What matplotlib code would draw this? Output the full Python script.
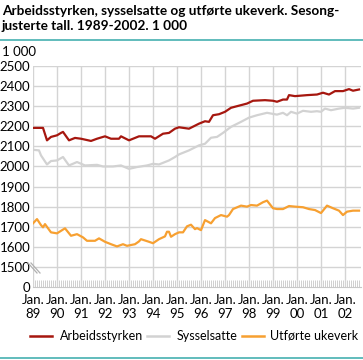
import matplotlib
matplotlib.use("Agg")
import matplotlib.pyplot as plt
from matplotlib.lines import Line2D

plt.rcParams['font.family'] = ['Lato', 'DejaVu Sans']

# values, 1 000 persons / weeks
arb_dates = ["1989-01", "1989-06", "1989-08", "1989-10", "1990-01", "1990-03", "1990-04",
             "1990-07", "1990-10", "1991-01", "1991-06", "1991-09", "1992-01", "1992-04",
             "1992-08", "1992-09", "1993-01", "1993-03", "1993-06", "1993-12", "1994-02",
             "1994-06", "1994-09", "1994-12", "1995-02", "1995-07", "1995-12", "1996-03",
             "1996-05", "1996-07", "1996-10", "1997-01", "1997-04", "1997-07", "1997-12",
             "1998-03", "1998-09", "1999-01", "1999-03", "1999-06", "1999-08", "1999-09",
             "1999-12", "2000-06", "2000-11", "2001-02", "2001-05", "2001-08", "2001-12",
             "2002-03", "2002-05", "2002-08"]
arb_vals = [2192, 2192, 2130, 2147, 2155, 2167, 2172,
            2130, 2142, 2138, 2127, 2138, 2150, 2138,
            2138, 2150, 2130, 2138, 2150, 2150, 2138,
            2163, 2167, 2188, 2195, 2188, 2213, 2225,
            2222, 2255, 2260, 2272, 2292, 2300, 2313,
            2327, 2330, 2327, 2322, 2333, 2333, 2355,
            2350, 2355, 2358, 2367, 2358, 2375, 2375,
            2385, 2377, 2383]

sys_dates = ["1989-01", "1989-04", "1989-05", "1989-08", "1989-10", "1990-01", "1990-04",
             "1990-07", "1990-11", "1991-03", "1991-09", "1991-12", "1992-05", "1992-09",
             "1993-01", "1993-05", "1993-10", "1994-01", "1994-04", "1994-09", "1994-12",
             "1995-02", "1995-07", "1995-12", "1996-03", "1996-06", "1996-09", "1996-12",
             "1997-04", "1997-09", "1998-01", "1998-05", "1998-10", "1999-03", "1999-06",
             "1999-08", "1999-10", "2000-01", "2000-04", "2000-08", "2000-11", "2001-01",
             "2001-03", "2001-06", "2001-10", "2002-01", "2002-05", "2002-08"]
sys_vals = [2083, 2080, 2055, 2010, 2027, 2030, 2047,
            2005, 2022, 2005, 2008, 2000, 2000, 2005,
            1988, 1997, 2005, 2013, 2010, 2030, 2047,
            2060, 2080, 2105, 2113, 2143, 2147, 2167,
            2197, 2222, 2243, 2255, 2267, 2258, 2267,
            2255, 2272, 2263, 2277, 2272, 2275, 2272,
            2288, 2280, 2288, 2292, 2288, 2292]

uke_dates = ["1989-01", "1989-03", "1989-05", "1989-06", "1989-07", "1989-10", "1990-01",
             "1990-05", "1990-08", "1990-11", "1991-02", "1991-04", "1991-08", "1991-10",
             "1992-01", "1992-04", "1992-07", "1992-10", "1992-12", "1993-04", "1993-06",
             "1993-07", "1993-11", "1994-01", "1994-04", "1994-07", "1994-08", "1994-09",
             "1994-10", "1994-12", "1995-02", "1995-04", "1995-06", "1995-08", "1995-10",
             "1995-11", "1996-01", "1996-03", "1996-06", "1996-08", "1996-11", "1997-02",
             "1997-03", "1997-05", "1997-09", "1997-12", "1998-02", "1998-05", "1998-08",
             "1998-10", "1999-01", "1999-03", "1999-06", "1999-09", "1999-12", "2000-04",
             "2000-07", "2000-10", "2001-01", "2001-04", "2001-07", "2001-10", "2001-12",
             "2002-02", "2002-05", "2002-08"]
uke_vals = [1717, 1738, 1708, 1697, 1713, 1672, 1667,
            1692, 1655, 1663, 1647, 1630, 1630, 1642,
            1625, 1613, 1602, 1613, 1605, 1613, 1627,
            1638, 1625, 1618, 1638, 1652, 1675, 1675,
            1650, 1663, 1672, 1672, 1702, 1710, 1688,
            1693, 1683, 1733, 1717, 1743, 1758, 1750,
            1758, 1788, 1805, 1800, 1808, 1805, 1822,
            1830, 1792, 1788, 1788, 1803, 1800, 1797,
            1788, 1783, 1768, 1805, 1792, 1780, 1758,
            1775, 1780, 1780]

series_names = ["Arbeidsstyrken", "Sysselsatte", "Utførte ukeverk"]
year_labels = ["89", "90", "91", "92", "93", "94", "95", "96", "97", "98", "99", "00", "01", "02"]
ytick_vals = [1400, 1500, 1600, 1700, 1800, 1900, 2000, 2100, 2200, 2300, 2400, 2500]
ytick_labels = ["0", "1500", "1600", "1700", "1800", "1900", "2000", "2100", "2200", "2300", "2400", "2500"]


def to_years(dates):
    return [int(d[:4]) + (int(d[5:]) - 1) / 12 for d in dates]


def px(x, y):
    # pixel position from top-left -> figure fraction
    return x / 363, 1 - y / 360


red = "#a6170f"
grey = "#d2d2d2"
orange = "#f7a031"
teal = "#46b0b0"
grid_c = "#d4d4d4"

fig = plt.figure(figsize=(3.63, 3.60), dpi=100)
ax = fig.add_axes([33 / 363, 73 / 360, 328 / 363, 221 / 360])

ax.plot(to_years(arb_dates), arb_vals, color=red, lw=1.6, zorder=4)
ax.plot(to_years(sys_dates), sys_vals, color=grey, lw=1.6, zorder=3)
ax.plot(to_years(uke_dates), uke_vals, color=orange, lw=1.6, zorder=4)

ax.set_xlim(1989, 1989 + 328 / 24)
ax.set_ylim(1400, 2500)

years = list(range(1989, 2003))
ax.set_xticks(years)
ax.set_xticklabels(["Jan.\n" + y for y in year_labels], fontsize=9.5, linespacing=1.2)
ax.set_xticks([y + m / 12 for y in range(1989, 2003) for m in range(12)
               if y + m / 12 < 1989 + 328 / 24], minor=True)
ax.tick_params(axis='x', which='major', length=0, pad=5)
ax.tick_params(axis='x', which='minor', direction='in', length=5, color="#c8c8c8", width=0.6)
ax.set_yticks(ytick_vals)
ax.set_yticklabels(ytick_labels, fontsize=9.5)
ax.tick_params(axis='y', length=0, pad=2)

for v in ytick_vals[1:]:
    ax.axhline(v, color=grid_c, lw=1, zorder=1)
for y in years:
    ax.axvline(y, color=grid_c, lw=1, zorder=1)

for s in ["top", "right", "left"]:
    ax.spines[s].set_visible(False)
ax.spines["bottom"].set_color("#c8c8c8")

# axis break marks
for dx in [0, 3]:
    x0, y0 = px(28 + dx, 263)
    x1, y1 = px(37 + dx, 273)
    fig.add_artist(Line2D([x0, x1], [y0, y1], color="#b0b0b0", lw=0.9))

fig.text(*px(2, 11), "Arbeidsstyrken, sysselsatte og utførte ukeverk. Sesong-",
         fontsize=9.8, fontweight='bold', va='center', ha='left')
fig.text(*px(2, 26), "justerte tall. 1989-2002. 1 000",
         fontsize=9.8, fontweight='bold', va='center', ha='left')
fig.add_artist(Line2D([0, 1], [1 - 39.5 / 360] * 2, color=teal, lw=1.2))
fig.add_artist(Line2D([0, 1], [1 - 358 / 360] * 2, color=teal, lw=1.2))
fig.text(*px(2, 52), "1 000", fontsize=9.5, va='center', ha='left')

# legend drawn by hand
legend_colors = [red, grey, orange]
line_x = [(30, 52), (147, 169), (242, 264)]
text_x = [60, 177, 270]
for name, col, (a, b), tx in zip(series_names, legend_colors, line_x, text_x):
    xa, ya = px(a, 336)
    xb, _ = px(b, 336)
    fig.add_artist(Line2D([xa, xb], [ya, ya], color=col, lw=1.8))
    fig.text(*px(tx, 336), name, fontsize=9, va='center', ha='left')

fig.savefig("out.png", dpi=100)
